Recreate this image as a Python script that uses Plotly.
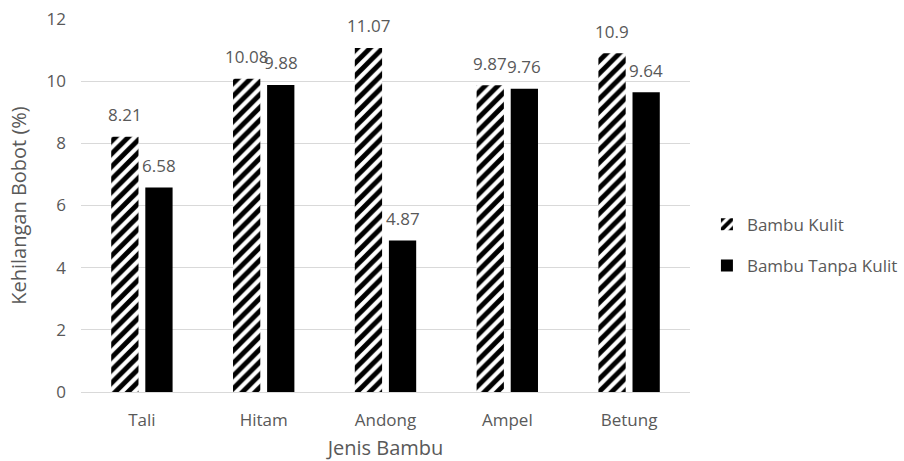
import plotly.graph_objects as go

# Bamboo species and weight loss (%) with and without skin
categories = ["Tali", "Hitam", "Andong", "Ampel", "Betung"]
kulit = [8.21, 10.08, 11.07, 9.87, 10.9]
tanpa_kulit = [6.58, 9.88, 4.87, 9.76, 9.64]
y_ticks = [0, 2, 4, 6, 8, 10, 12]

FONT = "Open Sans"
GREY = "#595959"
FS = 17

fig = go.Figure()
fig.add_trace(go.Bar(
    x=categories, y=kulit, name="Bambu Kulit",
    legendgroup="a",
    marker=dict(color="white", line=dict(width=0),
                pattern=dict(shape="/", fgcolor="black", bgcolor="white",
                             fgopacity=1, size=9, solidity=0.55)),
))
fig.add_trace(go.Bar(
    x=categories, y=tanpa_kulit, name="Bambu Tanpa Kulit",
    legendgroup="b",
    marker=dict(color="black", line=dict(width=0)),
))

# Value labels above each bar
for vals, dx in ((kulit, -17), (tanpa_kulit, 17)):
    for c, v in zip(categories, vals):
        fig.add_annotation(x=c, y=v, text=f"{v:g}", showarrow=False,
                           xshift=dx, yshift=22, yanchor="middle",
                           font=dict(family=FONT, size=FS, color=GREY))

fig.update_layout(
    width=904, height=461,
    margin=dict(l=81, r=214, t=19, b=69),
    paper_bgcolor="white", plot_bgcolor="white",
    barmode="group", bargap=0.44, bargroupgap=0.2,
    font=dict(family=FONT, size=FS, color=GREY),
    legend=dict(xref="container", yref="container",
                x=0.782, y=0.468, xanchor="left", yanchor="middle",
                traceorder="grouped", tracegroupgap=16,
                font=dict(family=FONT, size=FS, color=GREY)),
    xaxis=dict(title=dict(text="Jenis Bambu", standoff=10),
               showline=False, ticks="", showgrid=False,
               ticklabelstandoff=16, automargin=False),
    yaxis=dict(title=dict(text="Kehilangan Bobot (%)", standoff=14),
               range=[0, 12], tickvals=y_ticks, ticks="",
               showgrid=True, gridcolor="#d9d9d9", gridwidth=1,
               zeroline=True, zerolinecolor="#d9d9d9", zerolinewidth=1,
               ticklabelstandoff=14, automargin=False),
)

fig.write_html("out.html")
